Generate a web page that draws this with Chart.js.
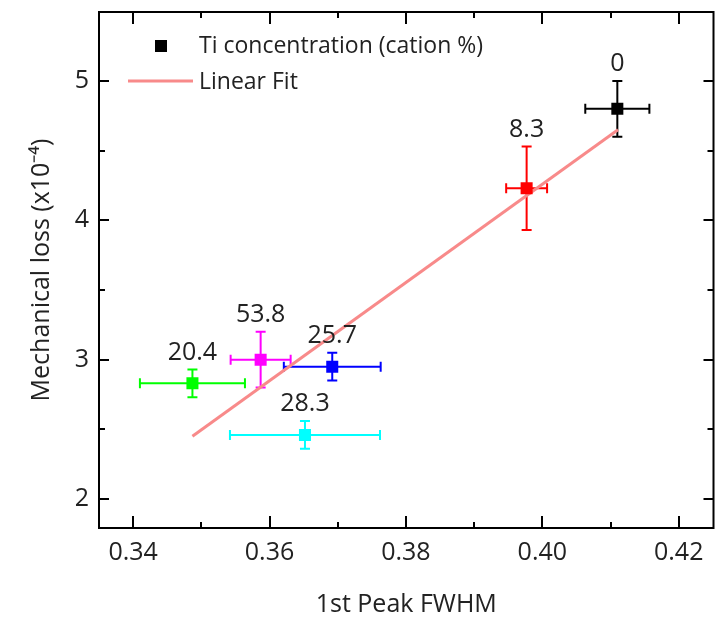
<!DOCTYPE html>
<html>
<head>
<meta charset="utf-8">
<script src="https://cdn.jsdelivr.net/npm/chart.js@4.4.0/dist/chart.umd.min.js"></script>
<style>
  html, body { margin: 0; padding: 0; background: #fff; }
  canvas { display: block; }
</style>
</head>
<body>
<canvas id="chart" width="722" height="622"></canvas>
<script>
// ── Data ─────────────────────────────────────────────────────
// Ti concentration (cation %) of each sample
const tiLabels = ['0', '8.3', '20.4', '53.8', '25.7', '28.3'];
const colors   = ['#000000', '#FF0000', '#00FF00', '#FF00FF', '#0000FF', '#00FFFF'];
const fwhm     = [0.4110, 0.3977, 0.3487, 0.3587, 0.3692, 0.3652];
const fwhmErr  = [0.0047, 0.0030, 0.0077, 0.0044, 0.0071, 0.0110];
const loss     = [4.80, 4.23, 2.83, 3.00, 2.95, 2.46];
const lossErr  = [0.20, 0.30, 0.10, 0.20, 0.10, 0.10];

// linear fit end points
const fitX = [0.3487, 0.4111];
const fitY = [2.45, 4.65];

const xTicks = [0.34, 0.36, 0.38, 0.40, 0.42];
const xMinor = [0.35, 0.37, 0.39, 0.41];
const yTicks = [2, 3, 4, 5];
const yMinor = [2.5, 3.5, 4.5];

const FONT = 'Open Sans';
const TEXT = '#222';
const FIT_COLOR = '#F88A8A';

// ── Plugins ──────────────────────────────────────────────────
// error bars, drawn under the markers
const errorBars = {
  id: 'errorBars',
  beforeDatasetsDraw(chart) {
    const { ctx, scales: { x, y } } = chart;
    const cap = 5;
    ctx.save();
    ctx.lineWidth = 2;
    fwhm.forEach((fx, i) => {
      const px = x.getPixelForValue(fx);
      const py = y.getPixelForValue(loss[i]);
      const x0 = x.getPixelForValue(fx - fwhmErr[i]);
      const x1 = x.getPixelForValue(fx + fwhmErr[i]);
      const y0 = y.getPixelForValue(loss[i] + lossErr[i]);
      const y1 = y.getPixelForValue(loss[i] - lossErr[i]);
      ctx.strokeStyle = colors[i];
      ctx.beginPath();
      ctx.moveTo(x0, py); ctx.lineTo(x1, py);
      ctx.moveTo(x0, py - cap); ctx.lineTo(x0, py + cap);
      ctx.moveTo(x1, py - cap); ctx.lineTo(x1, py + cap);
      ctx.moveTo(px, y0); ctx.lineTo(px, y1);
      ctx.moveTo(px - cap, y0); ctx.lineTo(px + cap, y0);
      ctx.moveTo(px - cap, y1); ctx.lineTo(px + cap, y1);
      ctx.stroke();
    });
    ctx.restore();
  }
};

// frame with inward ticks on all four sides, value labels, legend
const decorations = {
  id: 'decorations',
  afterDraw(chart) {
    const { ctx, chartArea: a, scales: { x, y } } = chart;
    ctx.save();
    ctx.strokeStyle = '#000';
    ctx.lineWidth = 2;
    ctx.strokeRect(a.left, a.top, a.right - a.left, a.bottom - a.top);

    ctx.beginPath();
    const xt = (vals, len) => vals.forEach(v => {
      const px = Math.round(x.getPixelForValue(v));
      ctx.moveTo(px, a.bottom); ctx.lineTo(px, a.bottom - len);
      ctx.moveTo(px, a.top);    ctx.lineTo(px, a.top + len);
    });
    const yt = (vals, len) => vals.forEach(v => {
      const py = Math.round(y.getPixelForValue(v));
      ctx.moveTo(a.left, py);  ctx.lineTo(a.left + len, py);
      ctx.moveTo(a.right, py); ctx.lineTo(a.right - len, py);
    });
    xt(xTicks, 12); xt(xMinor, 6);
    yt(yTicks, 10); yt(yMinor, 6);
    ctx.stroke();

    // concentration labels above each point
    ctx.fillStyle = TEXT;
    ctx.font = `25px "${FONT}"`;
    ctx.textAlign = 'center';
    ctx.textBaseline = 'middle';
    tiLabels.forEach((t, i) => {
      const px = x.getPixelForValue(fwhm[i]);
      const py = y.getPixelForValue(loss[i] + lossErr[i]) - 17;
      ctx.fillText(t, px, py);
    });

    // legend
    ctx.textAlign = 'left';
    ctx.font = `23px "${FONT}"`;
    ctx.fillStyle = '#000';
    ctx.fillRect(155, 40, 12, 12);
    ctx.fillStyle = TEXT;
    ctx.fillText('Ti concentration (cation %)', 199, 46);
    ctx.strokeStyle = FIT_COLOR;
    ctx.lineWidth = 3;
    ctx.beginPath();
    ctx.moveTo(128, 81); ctx.lineTo(193, 81);
    ctx.stroke();
    ctx.fillText('Linear Fit', 199, 82);
    ctx.restore();
  }
};

// ── Chart ────────────────────────────────────────────────────
new Chart(document.getElementById('chart'), {
  type: 'scatter',
  data: {
    datasets: [
      {
        label: 'Ti concentration (cation %)',
        data: fwhm.map((v, i) => ({ x: v, y: loss[i] })),
        pointStyle: 'rect',
        pointRadius: 8.5,
        pointHoverRadius: 8.5,
        backgroundColor: colors,
        borderColor: colors,
        borderWidth: 0,
        order: 1,
      },
      {
        label: 'Linear Fit',
        data: fitX.map((v, i) => ({ x: v, y: fitY[i] })),
        showLine: true,
        borderColor: FIT_COLOR,
        borderWidth: 3,
        pointRadius: 0,
        order: 2,
      }
    ]
  },
  options: {
    responsive: false,
    devicePixelRatio: 1,
    animation: false,
    layout: { padding: { top: 12, right: 6, left: 0, bottom: 0 } },
    plugins: { legend: { display: false }, tooltip: { enabled: false } },
    scales: {
      x: {
        type: 'linear',
        min: 0.335,
        max: 0.4251,
        grid: { display: false, drawTicks: false },
        border: { display: false },
        afterBuildTicks: s => { s.ticks = xTicks.map(v => ({ value: v })); },
        afterFit: s => { s.height = 94; s.paddingLeft = 0; s.paddingRight = 0; },
        ticks: {
          font: { family: FONT, size: 25 },
          color: TEXT,
          padding: 10,
          maxRotation: 0,
          callback: v => v.toFixed(2),
        },
        title: {
          display: true,
          text: '1st Peak FWHM',
          font: { family: FONT, size: 25 },
          color: TEXT,
          padding: { top: 0, bottom: 2 },
        },
      },
      y: {
        type: 'linear',
        min: 1.792,
        max: 5.495,
        grid: { display: false, drawTicks: false },
        border: { display: false },
        afterBuildTicks: s => { s.ticks = yTicks.map(v => ({ value: v })); },
        afterFit: s => { s.width = 99; s.paddingTop = 0; s.paddingBottom = 0; },
        ticks: {
          font: { family: FONT, size: 25 },
          color: TEXT,
          padding: 10,
          callback: v => String(v),
        },
        title: {
          display: true,
          text: 'Mechanical loss (x10⁻⁴)',
          font: { family: FONT, size: 25 },
          color: TEXT,
          padding: { top: 27, bottom: 0 },
        },
      }
    }
  },
  plugins: [errorBars, decorations]
});
</script>
</body>
</html>
